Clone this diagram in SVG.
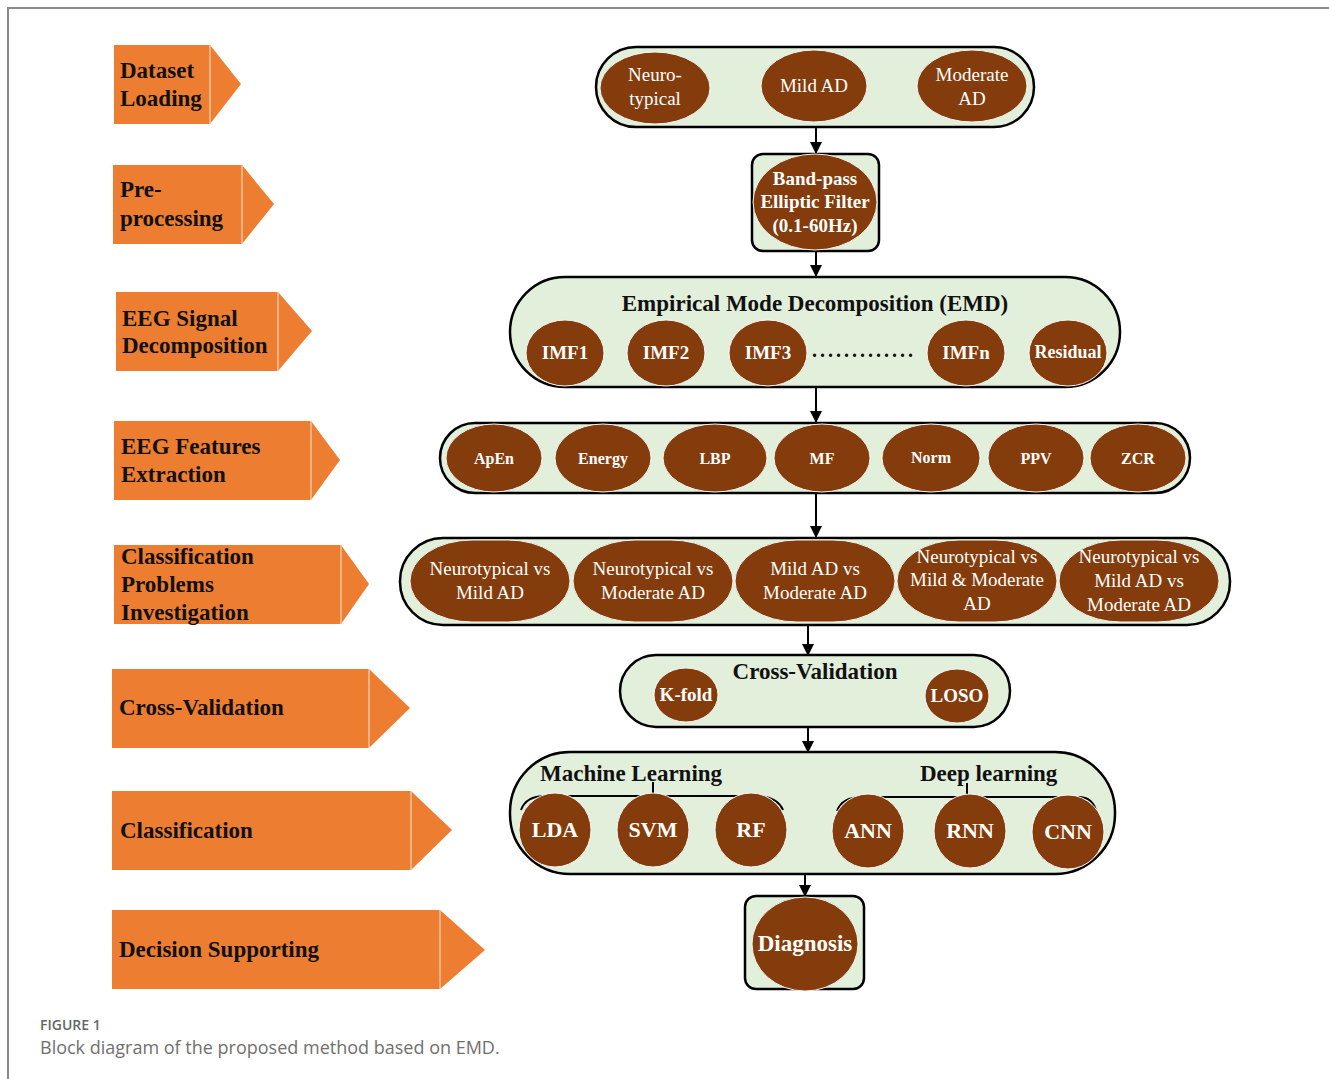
<svg xmlns="http://www.w3.org/2000/svg" width="1329" height="1079" viewBox="0 0 1329 1079">
<defs>
<marker id="ah" markerWidth="12" markerHeight="12" refX="11" refY="6" orient="auto" markerUnits="userSpaceOnUse">
<path d="M0,0 L12,6 L0,12 Z" fill="#000"/>
</marker>
<style>
.orng{fill:#ED7D31}
.sep{stroke:#F9D5BA;stroke-width:1.2}
.lab{font-family:"Liberation Serif",serif;font-weight:bold;font-size:23px;fill:#111}
.box{fill:#E2EFDA;stroke:#000;stroke-width:2.5}
.el{fill:#843C0C;stroke:#F4F4F4;stroke-width:1}
.wt{font-family:"Liberation Serif",serif;font-size:19px;fill:#fff;text-anchor:middle}
.wb{font-family:"Liberation Serif",serif;font-weight:bold;font-size:19px;fill:#fff;text-anchor:middle}
.wf{font-family:"Liberation Serif",serif;font-weight:bold;font-size:16px;fill:#fff;text-anchor:middle}
.wc{font-family:"Liberation Serif",serif;font-weight:bold;font-size:22px;fill:#fff;text-anchor:middle}
.tt{font-family:"Liberation Serif",serif;font-weight:bold;font-size:23px;fill:#111}
.con{stroke:#000;stroke-width:2;fill:none}
.cap1{font-family:"Open Sans","Noto Sans",sans-serif;font-size:14px;font-weight:600;fill:#666}
.cap2{font-family:"Open Sans","Noto Sans",sans-serif;font-size:18px;fill:#707070}
</style>
</defs>
<rect width="1329" height="1079" fill="#fff"/>
<path d="M8,1079 L8,8 L1329,8" fill="none" stroke="#8a8a8a" stroke-width="2"/>

<g id="stages">
<g id="stage-dataset">
<rect class="orng" x="114" y="45" width="96" height="79"/><polygon class="orng" points="210,45 241,84 210,124"/><line class="sep" x1="210" y1="45" x2="210" y2="124"/>
<text class="lab" x="120" y="78">Dataset</text><text class="lab" x="120" y="106">Loading</text>
</g>
<g id="stage-preprocessing">
<rect class="orng" x="113" y="165" width="129" height="79"/><polygon class="orng" points="242,165 274,204 242,244"/><line class="sep" x1="242" y1="165" x2="242" y2="244"/>
<text class="lab" x="120" y="197">Pre-</text><text class="lab" x="120" y="226">processing</text>
</g>
<g id="stage-decomposition">
<rect class="orng" x="116" y="292" width="162" height="79"/><polygon class="orng" points="278,292 312,331 278,371"/><line class="sep" x1="278" y1="292" x2="278" y2="371"/>
<text class="lab" x="122" y="326">EEG Signal</text><text class="lab" x="122" y="353">Decomposition</text>
</g>
<g id="stage-features">
<rect class="orng" x="114" y="421" width="197" height="79"/><polygon class="orng" points="311,421 340,460 311,500"/><line class="sep" x1="311" y1="421" x2="311" y2="500"/>
<text class="lab" x="121" y="454">EEG Features</text><text class="lab" x="121" y="482">Extraction</text>
</g>
<g id="stage-problems">
<rect class="orng" x="114" y="545" width="227" height="79"/><polygon class="orng" points="341,545 369,584 341,624"/><line class="sep" x1="341" y1="545" x2="341" y2="624"/>
<text class="lab" x="121" y="564">Classification</text><text class="lab" x="121" y="592">Problems</text><text class="lab" x="121" y="620">Investigation</text>
</g>
<g id="stage-cv">
<rect class="orng" x="112" y="669" width="257" height="79"/><polygon class="orng" points="369,669 410,708 369,748"/><line class="sep" x1="369" y1="669" x2="369" y2="748"/>
<text class="lab" x="119" y="715">Cross-Validation</text>
</g>
<g id="stage-classification">
<rect class="orng" x="112" y="791" width="299" height="79"/><polygon class="orng" points="411,791 452,830 411,870"/><line class="sep" x1="411" y1="791" x2="411" y2="870"/>
<text class="lab" x="120" y="838">Classification</text>
</g>
<g id="stage-decision">
<rect class="orng" x="112" y="910" width="328" height="79"/><polygon class="orng" points="440,910 485,950 440,989"/><line class="sep" x1="440" y1="910" x2="440" y2="989"/>
<text class="lab" x="119" y="957">Decision Supporting</text>
</g>
</g>

<g id="connectors">
<line class="con" x1="816" y1="127" x2="816" y2="153" marker-end="url(#ah)"/>
<line class="con" x1="816" y1="251" x2="816" y2="276" marker-end="url(#ah)"/>
<line class="con" x1="816" y1="387" x2="816" y2="422" marker-end="url(#ah)"/>
<line class="con" x1="816" y1="493" x2="816" y2="537" marker-end="url(#ah)"/>
<line class="con" x1="808" y1="625" x2="808" y2="655" marker-end="url(#ah)"/>
<line class="con" x1="808" y1="727" x2="808" y2="752" marker-end="url(#ah)"/>
<line class="con" x1="805" y1="874" x2="805" y2="896" marker-end="url(#ah)"/>
</g>

<g id="node-dataset">
<rect class="box" x="596" y="47" width="438" height="80" rx="40"/>
<ellipse class="el" cx="655" cy="88" rx="55" ry="36"/>
<text class="wt" x="655" y="81">Neuro-</text><text class="wt" x="655" y="105">typical</text>
<ellipse class="el" cx="814" cy="86" rx="53" ry="36"/>
<text class="wt" x="814" y="92">Mild AD</text>
<ellipse class="el" cx="972" cy="86" rx="55" ry="36"/>
<text class="wt" x="972" y="81">Moderate</text><text class="wt" x="972" y="105">AD</text>
</g>

<g id="node-filter">
<rect class="box" x="752" y="154" width="127" height="97" rx="11"/>
<ellipse class="el" cx="815" cy="202" rx="62" ry="48"/>
<text class="wb" x="815" y="185">Band-pass</text><text class="wb" x="815" y="208">Elliptic Filter</text><text class="wb" x="815" y="232">(0.1-60Hz)</text>
</g>

<g id="node-emd">
<rect class="box" x="510" y="277" width="610" height="110" rx="55"/>
<text class="tt" x="815" y="311" text-anchor="middle">Empirical Mode Decomposition (EMD)</text>
<ellipse class="el" cx="565" cy="353" rx="39" ry="33"/><text class="wb" x="565" y="359">IMF1</text>
<ellipse class="el" cx="666" cy="353" rx="39" ry="33"/><text class="wb" x="666" y="359">IMF2</text>
<ellipse class="el" cx="768" cy="353" rx="39" ry="33"/><text class="wb" x="768" y="359">IMF3</text>
<text class="tt" x="812" y="357" style="font-size:20px;letter-spacing:3px">.............</text>
<ellipse class="el" cx="966" cy="353" rx="39" ry="33"/><text class="wb" x="966" y="359">IMFn</text>
<ellipse class="el" cx="1068" cy="353" rx="39" ry="33"/><text class="wb" x="1068" y="358" style="font-size:18px">Residual</text>
</g>

<g id="node-features">
<rect class="box" x="440" y="423" width="750" height="70" rx="35"/>
<ellipse class="el" cx="494" cy="458" rx="48" ry="34"/><text class="wf" x="494" y="464">ApEn</text>
<ellipse class="el" cx="603" cy="458" rx="48" ry="34"/><text class="wf" x="603" y="464">Energy</text>
<ellipse class="el" cx="715" cy="458" rx="52" ry="34"/><text class="wf" x="715" y="464">LBP</text>
<ellipse class="el" cx="822" cy="458" rx="48" ry="34"/><text class="wf" x="822" y="464">MF</text>
<ellipse class="el" cx="931" cy="458" rx="49" ry="34"/><text class="wf" x="931" y="463">Norm</text>
<ellipse class="el" cx="1036" cy="458" rx="48" ry="34"/><text class="wf" x="1036" y="464">PPV</text>
<ellipse class="el" cx="1138" cy="458" rx="48" ry="34"/><text class="wf" x="1138" y="464">ZCR</text>
</g>

<g id="node-problems">
<rect class="box" x="400" y="538" width="830" height="87" rx="43"/>
<rect class="el" x="410" y="540" width="160" height="82" rx="62" ry="41"/>
<text class="wt" x="490" y="575">Neurotypical vs</text><text class="wt" x="490" y="599">Mild AD</text>
<rect class="el" x="573" y="540" width="160" height="82" rx="62" ry="41"/>
<text class="wt" x="653" y="575">Neurotypical vs</text><text class="wt" x="653" y="599">Moderate AD</text>
<rect class="el" x="735" y="540" width="160" height="82" rx="62" ry="41"/>
<text class="wt" x="815" y="575">Mild AD vs</text><text class="wt" x="815" y="599">Moderate AD</text>
<rect class="el" x="897" y="540" width="160" height="82" rx="62" ry="41"/>
<text class="wt" x="977" y="563">Neurotypical vs</text><text class="wt" x="977" y="586">Mild &amp; Moderate</text><text class="wt" x="977" y="610">AD</text>
<rect class="el" x="1059" y="540" width="160" height="82" rx="62" ry="41"/>
<text class="wt" x="1139" y="563">Neurotypical vs</text><text class="wt" x="1139" y="587">Mild AD vs</text><text class="wt" x="1139" y="611">Moderate AD</text>
</g>

<g id="node-cv">
<rect class="box" x="620" y="655" width="390" height="72" rx="36"/>
<text class="tt" x="815" y="679" text-anchor="middle">Cross-Validation</text>
<ellipse class="el" cx="686" cy="695" rx="32" ry="27"/><text class="wb" x="686" y="701">K-fold</text>
<ellipse class="el" cx="957" cy="696" rx="32" ry="27"/><text class="wb" x="957" y="702">LOSO</text>
</g>

<g id="node-classifiers">
<rect class="box" x="510" y="752" width="605" height="122" rx="60"/>
<text class="tt" x="540" y="781">Machine Learning</text>
<text class="tt" x="920" y="781">Deep learning</text>
<path class="con" d="M521,810 Q526,796 545,796 L760,796 Q778,798 783,810"/>
<line class="con" x1="653" y1="782" x2="653" y2="796"/>
<path class="con" d="M837,811 Q842,797 862,797 L1080,797 Q1093,798 1096,811"/>
<line class="con" x1="967" y1="783" x2="967" y2="797"/>
<ellipse class="el" cx="555" cy="830" rx="36" ry="37"/><text class="wc" x="555" y="837">LDA</text>
<ellipse class="el" cx="653" cy="830" rx="36" ry="37"/><text class="wc" x="653" y="837">SVM</text>
<ellipse class="el" cx="751" cy="830" rx="36" ry="37"/><text class="wc" x="751" y="837">RF</text>
<ellipse class="el" cx="868" cy="831" rx="36" ry="37"/><text class="wc" x="868" y="838">ANN</text>
<ellipse class="el" cx="970" cy="831" rx="36" ry="37"/><text class="wc" x="970" y="838">RNN</text>
<ellipse class="el" cx="1068" cy="832" rx="36" ry="37"/><text class="wc" x="1068" y="839">CNN</text>
</g>

<g id="node-diagnosis">
<rect class="box" x="745" y="896" width="119" height="93" rx="11"/>
<ellipse class="el" cx="805" cy="944" rx="53" ry="47"/>
<text class="wc" x="805" y="951" style="font-size:23px">Diagnosis</text>
</g>

<text class="cap1" x="40" y="1030">FIGURE 1</text>
<text class="cap2" x="40" y="1054">Block diagram of the proposed method based on EMD.</text>
</svg>
